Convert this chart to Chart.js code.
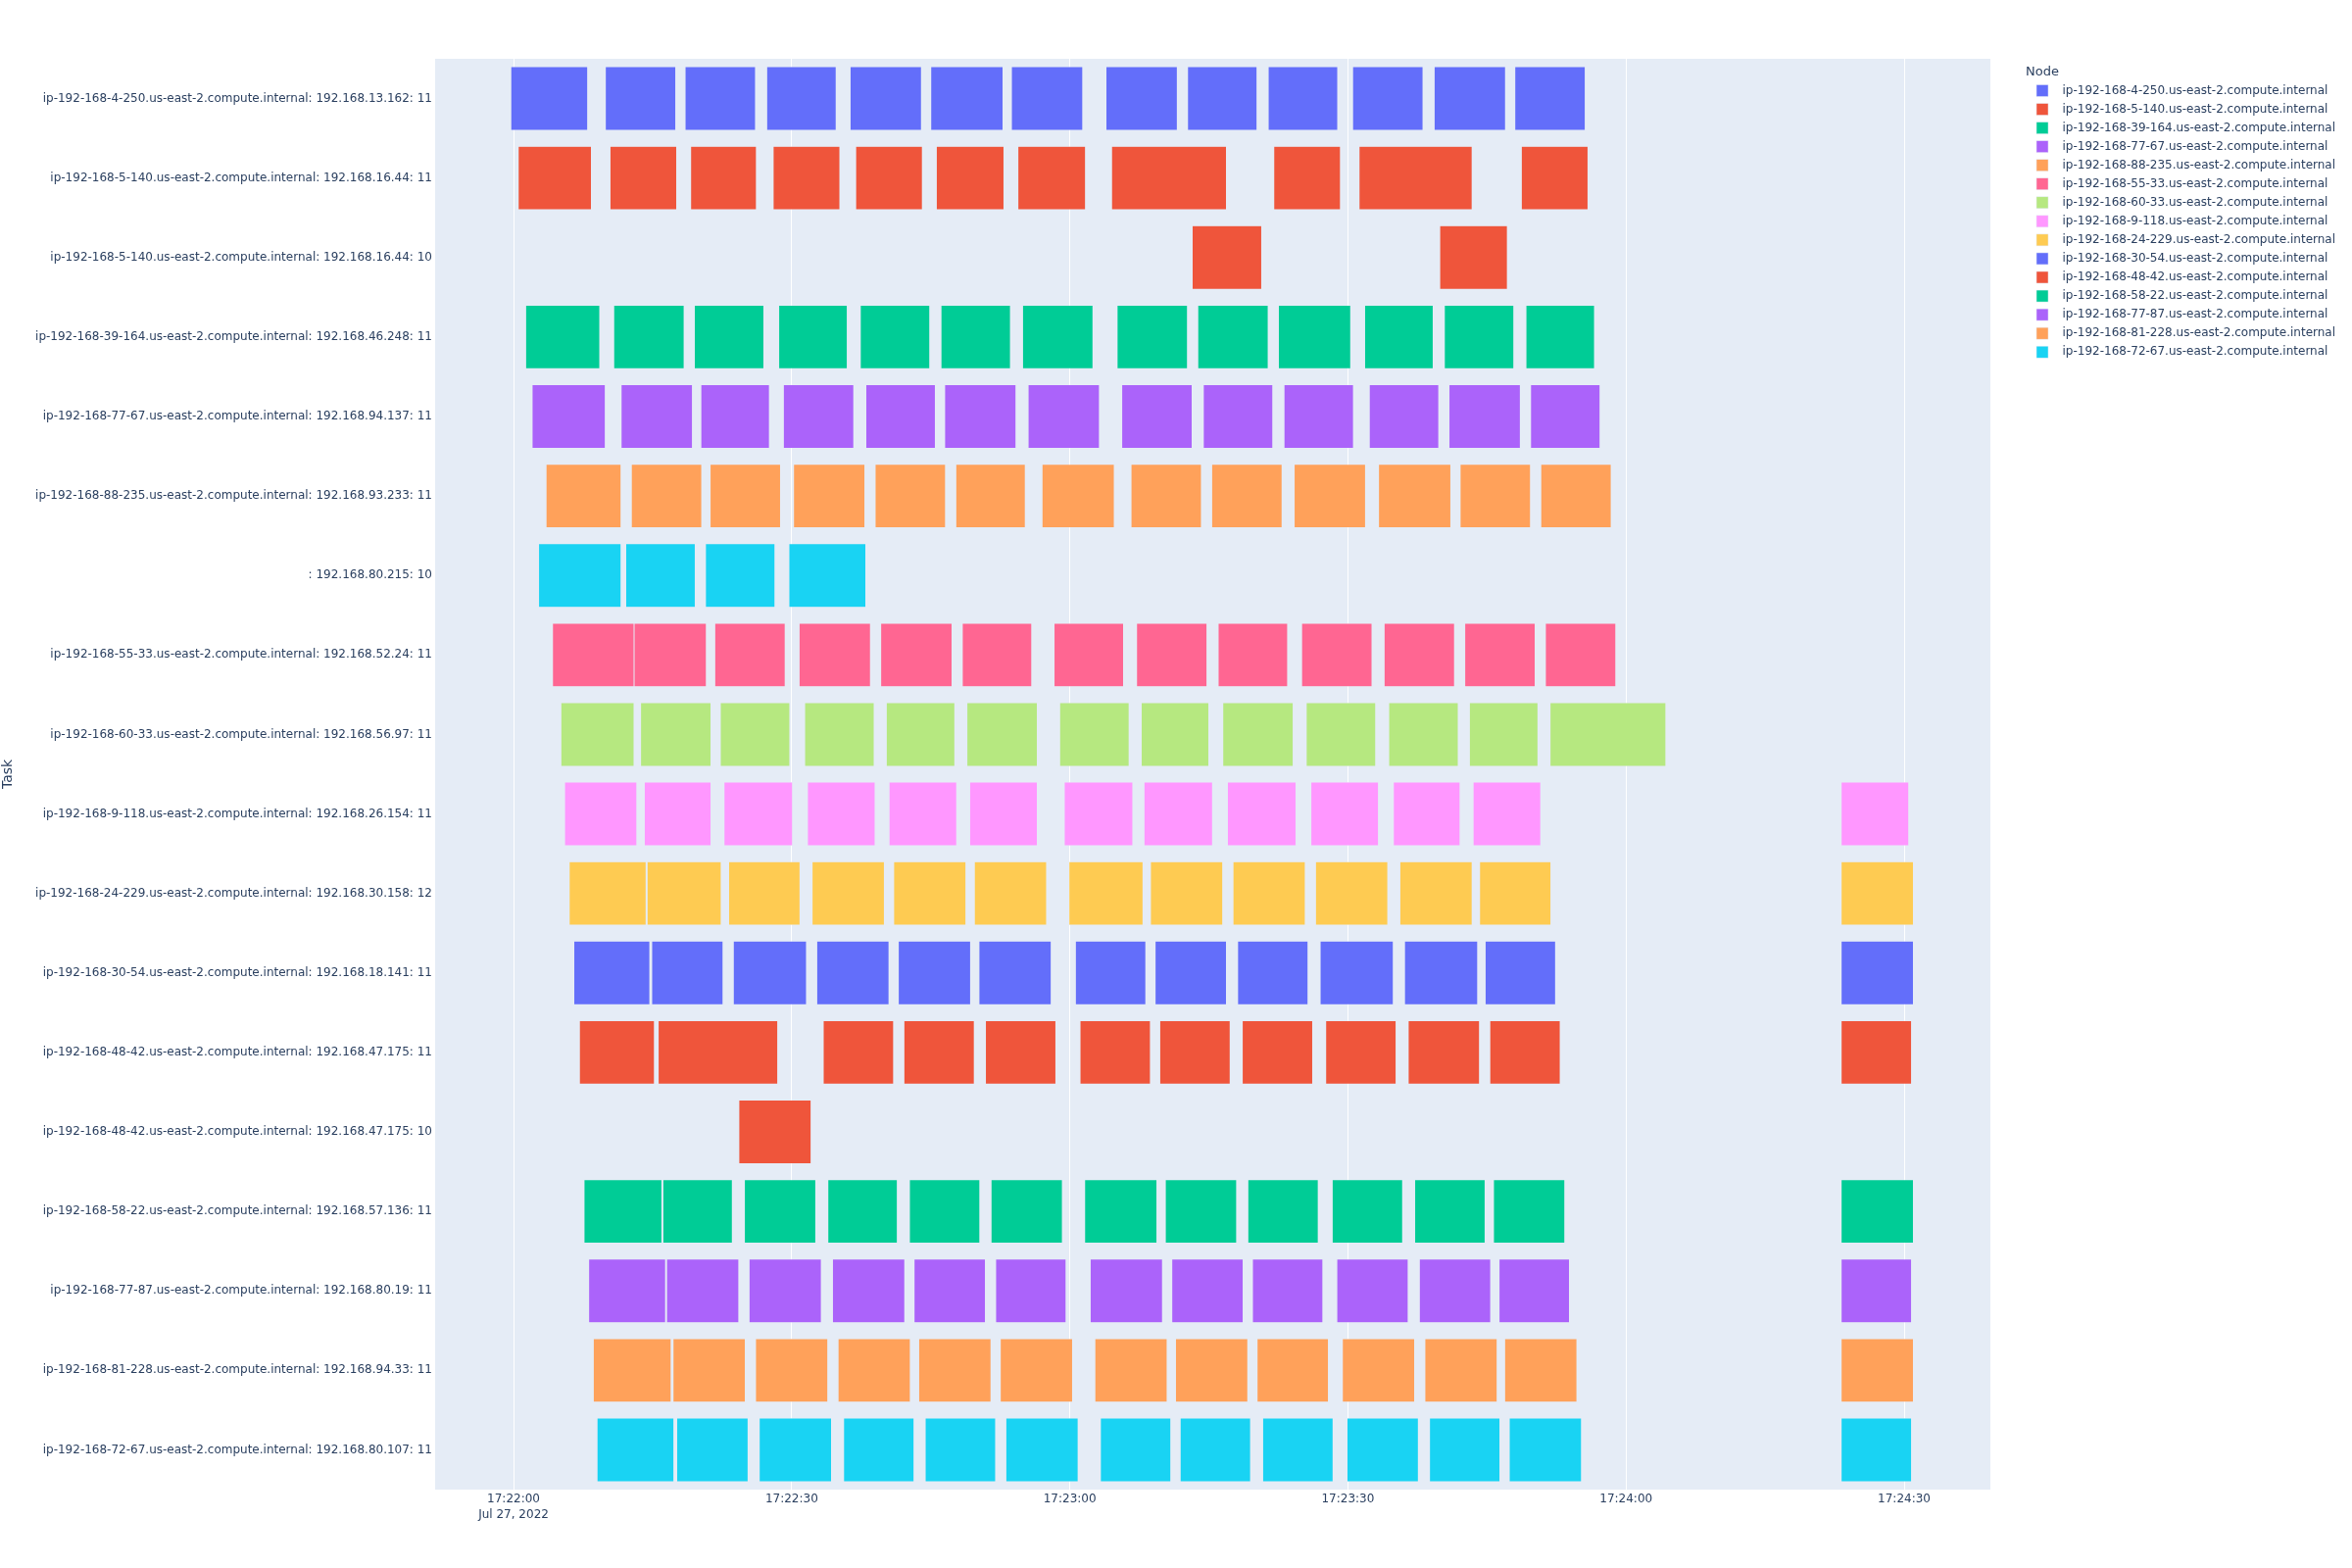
<!DOCTYPE html>
<html>
<head>
<meta charset="utf-8">
<script src="https://cdn.jsdelivr.net/npm/chart.js@4.4.1/dist/chart.umd.min.js"></script>
<style>
html,body{margin:0;padding:0;background:#ffffff;}
#wrap{width:2400px;height:1600px;}
</style>
</head>
<body>
<div id="wrap"><canvas id="c" width="2400" height="1600"></canvas></div>
<script>
// ---------- DATA (seconds after 17:22:00, Jul 27, 2022) ----------
const nodes = [
  "ip-192-168-4-250.us-east-2.compute.internal",
  "ip-192-168-5-140.us-east-2.compute.internal",
  "ip-192-168-39-164.us-east-2.compute.internal",
  "ip-192-168-77-67.us-east-2.compute.internal",
  "ip-192-168-88-235.us-east-2.compute.internal",
  "",
  "ip-192-168-55-33.us-east-2.compute.internal",
  "ip-192-168-60-33.us-east-2.compute.internal",
  "ip-192-168-9-118.us-east-2.compute.internal",
  "ip-192-168-24-229.us-east-2.compute.internal",
  "ip-192-168-30-54.us-east-2.compute.internal",
  "ip-192-168-48-42.us-east-2.compute.internal",
  "ip-192-168-58-22.us-east-2.compute.internal",
  "ip-192-168-77-87.us-east-2.compute.internal",
  "ip-192-168-81-228.us-east-2.compute.internal",
  "ip-192-168-72-67.us-east-2.compute.internal"
];
const nodeColors = ["#636efa","#EF553B","#00cc96","#ab63fa","#FFA15A","#19d3f3","#FF6692","#B6E880","#FF97FF","#FECB52",
                    "#636efa","#EF553B","#00cc96","#ab63fa","#FFA15A","#19d3f3"];

const tasks = [
  "ip-192-168-4-250.us-east-2.compute.internal: 192.168.13.162: 11",
  "ip-192-168-5-140.us-east-2.compute.internal: 192.168.16.44: 11",
  "ip-192-168-5-140.us-east-2.compute.internal: 192.168.16.44: 10",
  "ip-192-168-39-164.us-east-2.compute.internal: 192.168.46.248: 11",
  "ip-192-168-77-67.us-east-2.compute.internal: 192.168.94.137: 11",
  "ip-192-168-88-235.us-east-2.compute.internal: 192.168.93.233: 11",
  ": 192.168.80.215: 10",
  "ip-192-168-55-33.us-east-2.compute.internal: 192.168.52.24: 11",
  "ip-192-168-60-33.us-east-2.compute.internal: 192.168.56.97: 11",
  "ip-192-168-9-118.us-east-2.compute.internal: 192.168.26.154: 11",
  "ip-192-168-24-229.us-east-2.compute.internal: 192.168.30.158: 12",
  "ip-192-168-30-54.us-east-2.compute.internal: 192.168.18.141: 11",
  "ip-192-168-48-42.us-east-2.compute.internal: 192.168.47.175: 11",
  "ip-192-168-48-42.us-east-2.compute.internal: 192.168.47.175: 10",
  "ip-192-168-58-22.us-east-2.compute.internal: 192.168.57.136: 11",
  "ip-192-168-77-87.us-east-2.compute.internal: 192.168.80.19: 11",
  "ip-192-168-81-228.us-east-2.compute.internal: 192.168.94.33: 11",
  "ip-192-168-72-67.us-east-2.compute.internal: 192.168.80.107: 11"
];
// node index of each task row
const taskNode = [0,1,1,2,3,4,5,6,7,8,9,10,11,11,12,13,14,15];

const task01 = [[-0.3,8.0],[9.9,17.5],[18.5,26.1],[27.3,34.8],[36.3,44.0],[45.0,52.8],[53.7,61.4],[63.9,71.6],[72.7,80.2],[81.4,88.9],[90.5,98.1],[99.3,107.0],[108.0,115.6]];
const task02 = [[0.5,8.4],[10.4,17.6],[19.1,26.2],[28.0,35.2],[36.9,44.1],[45.6,52.9],[54.4,61.7],[64.5,76.9],[82.0,89.2],[91.2,103.4],[108.7,115.9]];
const task03 = [[73.2,80.7],[99.9,107.2]];
const task04 = [[1.3,9.3],[10.8,18.4],[19.5,27.0],[28.6,36.0],[37.4,44.9],[46.1,53.6],[54.9,62.5],[65.1,72.7],[73.8,81.4],[82.5,90.3],[91.8,99.2],[100.4,107.9],[109.2,116.6]];
const task05 = [[2.0,9.9],[11.6,19.3],[20.2,27.6],[29.1,36.7],[38.0,45.5],[46.5,54.2],[55.5,63.2],[65.6,73.2],[74.4,81.9],[83.1,90.6],[92.3,99.8],[100.9,108.6],[109.7,117.2]];
const task06 = [[3.5,11.6],[12.7,20.3],[21.2,28.8],[30.2,37.9],[39.0,46.6],[47.7,55.2],[57.0,64.8],[66.6,74.2],[75.3,82.9],[84.2,91.9],[93.3,101.1],[102.1,109.7],[110.8,118.4]];
const task07 = [[2.7,11.6],[12.1,19.6],[20.7,28.2],[29.7,38.0]];
const task08 = [[4.2,13.0],[13.0,20.8],[21.7,29.3],[30.8,38.5],[39.6,47.3],[48.4,55.9],[58.3,65.8],[67.2,74.8],[76.0,83.5],[85.0,92.6],[93.9,101.5],[102.6,110.2],[111.3,118.9]];
const task09 = [[5.1,13.0],[13.7,21.3],[22.3,29.8],[31.4,38.9],[40.2,47.6],[48.9,56.5],[58.9,66.4],[67.7,75.0],[76.5,84.1],[85.5,93.0],[94.4,101.9],[103.1,110.5],[111.8,124.3]];
const task10 = [[5.5,13.3],[14.1,21.3],[22.7,30.1],[31.7,39.0],[40.5,47.8],[49.2,56.5],[59.4,66.8],[68.0,75.4],[77.0,84.4],[86.0,93.3],[94.9,102.1],[103.5,110.8],[143.2,150.5]];
const task11 = [[6.0,14.3],[14.4,22.4],[23.2,30.9],[32.2,40.0],[41.0,48.8],[49.7,57.5],[59.9,67.9],[68.7,76.5],[77.6,85.4],[86.5,94.3],[95.6,103.4],[104.2,111.9],[143.2,151.0]];
const task12 = [[6.5,14.7],[14.9,22.6],[23.7,31.6],[32.7,40.5],[41.5,49.3],[50.2,58.0],[60.6,68.2],[69.2,76.9],[78.1,85.7],[87.0,94.9],[96.1,104.0],[104.8,112.4],[143.2,151.0]];
const task13 = [[7.1,15.2],[15.6,28.5],[33.4,41.0],[42.1,49.7],[50.9,58.5],[61.1,68.7],[69.7,77.3],[78.6,86.2],[87.6,95.2],[96.5,104.2],[105.3,112.9],[143.2,150.8]];
const task14 = [[24.3,32.1]];
const task15 = [[7.6,16.0],[16.1,23.6],[24.9,32.6],[33.9,41.4],[42.7,50.3],[51.5,59.2],[61.6,69.4],[70.3,78.0],[79.2,86.8],[88.3,95.9],[97.2,104.8],[105.7,113.4],[143.2,151.0]];
const task16 = [[8.1,16.4],[16.5,24.3],[25.4,33.2],[34.4,42.2],[43.2,50.9],[52.0,59.6],[62.2,70.0],[71.0,78.7],[79.7,87.3],[88.8,96.5],[97.7,105.4],[106.3,113.9],[143.2,150.8]];
const task17 = [[8.6,17.0],[17.2,25.0],[26.1,33.9],[35.0,42.8],[43.7,51.5],[52.5,60.3],[62.7,70.5],[71.4,79.2],[80.2,87.9],[89.4,97.2],[98.3,106.1],[106.9,114.7],[143.2,151.0]];
const task18 = [[9.0,17.3],[17.6,25.3],[26.5,34.3],[35.6,43.2],[44.4,52.0],[53.1,60.9],[63.3,70.9],[71.9,79.5],[80.8,88.4],[89.9,97.6],[98.8,106.4],[107.4,115.2],[143.2,150.8]];

const taskSpans = [task01,task02,task03,task04,task05,task06,task07,task08,task09,task10,task11,task12,task13,task14,task15,task16,task17,task18];

const baseTime = {h:17, m:22, s:0};
const baseDate = "Jul 27, 2022";
const xTickStep = 30;

// ---------- BUILD ----------
const FONT = "'DejaVu Sans'";
const TEXT = "#2a3f5f";
const PLOT_BG = "#E5ECF6";

const datasets = nodes.map((name, k) => {
  const data = [];
  taskSpans.forEach((spans, r) => {
    if (taskNode[r] !== k) return;
    spans.forEach(sp => data.push({x: [sp[0], sp[1]], y: tasks[r]}));
  });
  return {
    label: name,
    data: data,
    backgroundColor: nodeColors[k],
    borderColor: PLOT_BG,
    borderWidth: 0.5,
    borderSkipped: false,
    grouped: false,
    barPercentage: 1,
    categoryPercentage: 0.8
  };
});

function pad2(n){ return (n < 10 ? "0" : "") + n; }
function fmtTime(v){
  let t = baseTime.h*3600 + baseTime.m*60 + baseTime.s + Math.round(v);
  const h = Math.floor(t/3600); t -= h*3600;
  const m = Math.floor(t/60); const s = t - m*60;
  return pad2(h) + ":" + pad2(m) + ":" + pad2(s);
}

const bgPlugin = {
  id: 'plotBg',
  beforeDraw(chart){
    const {ctx, chartArea: a} = chart;
    ctx.save();
    ctx.fillStyle = '#ffffff';
    ctx.fillRect(0, 0, chart.width, chart.height);
    ctx.fillStyle = PLOT_BG;
    ctx.fillRect(a.left, a.top, a.right - a.left, a.bottom - a.top);
    ctx.restore();
  }
};

const legendPlugin = {
  id: 'nodeLegend',
  afterDraw(chart){
    const {ctx, chartArea: a} = chart;
    const x0 = a.right + 36;
    ctx.save();
    ctx.textAlign = 'left';
    ctx.textBaseline = 'middle';
    ctx.fillStyle = TEXT;
    ctx.font = "13px " + FONT;
    ctx.fillText("Node", x0, a.top + 13.5);
    ctx.font = "12px " + FONT;
    let i = 0;
    chart.data.datasets.forEach(ds => {
      if (!ds.label) return;
      const y = a.top + 32.5 + i * 19.05;
      ctx.fillStyle = ds.backgroundColor;
      ctx.fillRect(x0 + 11, y - 6, 12, 12);
      ctx.strokeStyle = PLOT_BG;
      ctx.lineWidth = 0.5;
      ctx.strokeRect(x0 + 11, y - 6, 12, 12);
      ctx.fillStyle = TEXT;
      ctx.fillText(ds.label, x0 + 37.5, y);
      i++;
    });
    ctx.restore();
  }
};

new Chart(document.getElementById('c'), {
  type: 'bar',
  data: { labels: tasks, datasets: datasets },
  plugins: [bgPlugin, legendPlugin],
  options: {
    responsive: false,
    animation: false,
    devicePixelRatio: 1,
    indexAxis: 'y',
    layout: { padding: { top: 60, right: 369, bottom: 0, left: 0 } },
    plugins: { legend: { display: false }, tooltip: { enabled: false } },
    scales: {
      x: {
        type: 'linear',
        position: 'bottom',
        min: -8.46,
        max: 159.3,
        grid: { color: '#ffffff', lineWidth: 1, drawTicks: false },
        border: { display: false },
        ticks: {
          stepSize: xTickStep,
          includeBounds: false,
          autoSkip: false,
          maxRotation: 0,
          padding: 1,
          color: TEXT,
          font: { family: FONT, size: 12, lineHeight: 1.4 },
          callback: (v) => v === 0 ? [fmtTime(v), baseDate] : fmtTime(v)
        },
        afterFit: (s) => { s.height = 80; }
      },
      y: {
        type: 'category',
        grid: { display: false, drawTicks: false },
        border: { display: false },
        ticks: {
          autoSkip: false,
          padding: 3,
          color: TEXT,
          font: { family: FONT, size: 12 }
        },
        title: { display: true, text: 'Task', color: TEXT, font: { family: FONT, size: 14 }, padding: 0 },
        afterFit: (s) => { s.width = 444; }
      }
    }
  }
});
</script>
</body>
</html>
